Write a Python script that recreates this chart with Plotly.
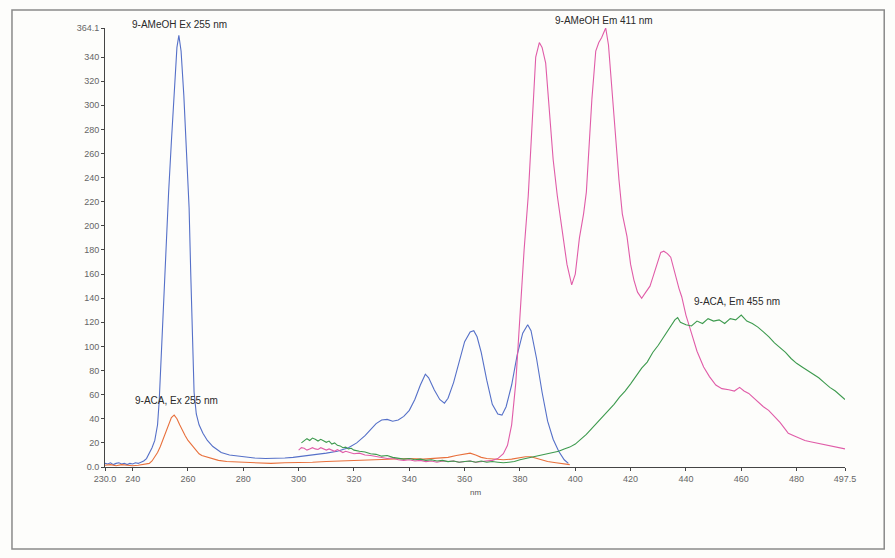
import plotly.graph_objects as go

# 9-AMeOH excitation spectrum (blue)
ameoh_ex_nm = [230, 231, 232, 233, 234, 235, 236, 237, 238, 239, 240, 241, 242, 243, 244, 245, 246, 247, 248,
               249, 249.6, 250, 251, 252, 253, 254, 255, 256, 256.7, 257.5, 258.5, 259.5, 260.4, 261, 261.6,
               262.2, 263, 264, 265.4, 267, 269, 272, 275, 278, 281, 284, 288, 292, 295, 298, 302, 306, 310,
               314, 318, 321, 324, 326, 328, 330, 332, 334, 336, 338, 340, 342, 344, 345.8, 347, 349, 351,
               352.7, 354, 356, 358, 360, 362, 363.3, 364.5, 366, 368, 370, 372, 373.5, 375, 377, 379, 381,
               382.8, 384, 386, 388, 390, 392, 394, 396, 397.5]
ameoh_ex_val = [3, 2.5, 3.5, 2, 3, 3.5, 2.5, 3, 2, 3, 2.5, 3.5, 3, 4, 5, 7, 11, 16, 22,
                35, 55, 75, 138, 185, 228, 270, 315, 348, 358, 345, 308, 262, 215, 160, 100,
                62, 44, 35, 28, 22, 17, 12, 10, 9, 8, 7.5, 7, 7, 7.5, 8, 9, 10, 11.5,
                13, 16, 20, 26, 31, 36, 39, 39.5, 38, 39, 42, 47, 56, 68, 77, 74, 64, 56,
                53, 57, 70, 88, 104, 112, 113, 108, 95, 72, 52, 44, 43, 50, 68, 93, 111,
                118, 113, 90, 62, 38, 23, 13, 6, 3]

# 9-ACA excitation spectrum (orange)
aca_ex_nm = [230, 232, 234, 236, 238, 240, 242, 244, 246, 247, 248, 249, 250, 251, 252, 253, 254, 255, 256,
             257, 258, 259, 260, 261, 262, 263, 264, 265, 267, 269, 271, 274, 278, 282, 286, 290, 295, 300,
             305, 310, 315, 320, 325, 330, 335, 340, 345, 350, 354, 357, 360, 362, 364, 366, 368, 371, 374,
             377, 380, 382, 384, 386, 388, 390, 393, 396, 398]
aca_ex_val = [1.5, 2, 1, 2, 1.5, 1, 1.5, 2, 3, 5, 8, 12, 17, 23, 30, 36, 41, 43, 40,
              35, 30, 26, 22, 19, 16, 13, 11, 9.5, 8, 6.5, 5.5, 4.5, 4, 3.5, 3.5, 3, 3.5, 3.5,
              4, 4.5, 5, 5, 5.5, 6, 6.5, 7, 6.5, 7, 8, 9.5, 11, 11.5, 10, 8, 7, 6.5, 6,
              6.5, 7.5, 8.5, 8.5, 7, 5.5, 4.5, 3.5, 2.5, 2]

# 9-AMeOH emission spectrum (magenta)
ameoh_em_nm = [300, 301, 302, 303, 304, 305, 306, 307, 308, 309, 310, 311, 312, 313, 314, 315, 316, 317, 318,
               320, 322, 324, 326, 328, 330, 332, 334, 336, 338, 340, 342, 344, 346, 348, 350, 352, 354, 356,
               358, 360, 362, 364, 366, 368, 370, 372, 374, 375.5, 377, 378.5, 380, 381.5, 383, 384.5, 385.7,
               387, 388, 389.3, 390.5, 392, 393.5, 395, 397, 398.7, 400, 401.5, 403, 404, 405, 406, 407.4,
               408.5, 409.5, 411, 412, 413, 414.5, 415.8, 417, 418.7, 420, 421.2, 422.5, 424, 425.5, 427, 428,
               429.5, 430.9, 432, 433.3, 434.5, 436, 437.5, 438.5, 440, 442, 444, 446.4, 448.5, 450.8, 453,
               455.5, 457.5, 459.4, 461, 462.7, 464.5, 466.5, 468, 469.9, 472, 474, 476, 477, 479, 481, 483,
               485, 486.9, 489, 491, 493, 495.2, 497.5]
ameoh_em_val = [14, 16, 15.5, 14, 15, 16, 15, 14.5, 16, 15, 14, 15, 14, 13, 14.5, 13.5, 12, 13, 12.5,
                11, 11.5, 10, 9.5, 8.5, 8, 7, 7.5, 6, 5.5, 6, 5, 5.5, 4.5, 5, 4, 5, 4.5, 5,
                4, 4.5, 5, 4, 4.5, 5, 5.5, 7, 11, 18, 35, 70, 125, 180, 225, 290, 340,
                352, 348, 335, 300, 255, 225, 200, 168, 151, 160, 190, 210, 228, 265, 305, 345,
                352, 356, 364.1, 350, 320, 275, 238, 210, 191, 168, 155, 145, 140, 145, 150, 157,
                167, 178, 179, 177, 174, 160, 148, 141, 126, 111, 96, 83, 75, 68, 65,
                64, 63, 66, 63, 61, 57, 53, 50, 47, 42, 37, 31, 28, 26, 24, 22,
                21, 20, 19, 18, 17, 16, 15]

# 9-ACA emission spectrum (green)
aca_em_nm = [301, 302, 303, 304, 305, 306, 307, 308, 309, 310, 311, 312, 313, 314, 315, 316, 317, 318, 319,
             320, 322, 324, 326, 328, 330, 332, 334, 336, 338, 340, 342, 344, 346, 348, 350, 352, 354, 356,
             358, 360, 362, 364, 366, 368, 370, 372, 374, 376, 378, 380, 382, 384, 386, 388, 390, 392, 394,
             396, 398, 400, 402, 404, 406, 408, 410, 412, 414, 416, 418, 420, 422, 424, 426, 428, 430, 432,
             434, 436, 437, 438, 440, 442, 444, 446, 448, 450, 452, 454, 456, 458, 460, 462, 464, 466, 468,
             470, 472, 474, 476, 478, 480, 482, 484, 486, 488, 490, 492, 494, 496, 497.5]
aca_em_val = [20, 22, 23.5, 22, 24, 23, 21.5, 23, 22, 20.5, 21.5, 19, 20, 18, 17.5, 16, 16.5, 15, 15.5,
              14, 13, 12.5, 11, 10.5, 9, 9.5, 8, 7.5, 6.5, 7, 6, 6.5, 5.5, 6, 5, 5.5, 4.5, 5,
              4, 4.5, 5, 4, 5, 4, 4.5, 4, 3.5, 4, 4.5, 6, 7, 8.5, 9.5, 10, 11, 12.5, 13,
              15, 16.5, 19, 23, 27, 32, 37, 42, 47, 52, 58, 63, 69, 76, 82, 87, 95, 101, 108,
              115, 122, 124, 120, 118, 117, 121, 119, 123, 121, 122, 119, 123, 122, 126, 121, 119, 116, 112,
              108, 103, 99, 95, 90, 86, 83, 80, 77, 74, 70, 66, 63, 59, 56]

x_ticks = [230, 240, 260, 280, 300, 320, 340, 360, 380, 400, 420, 440, 460, 480, 497.5]
x_tick_text = ["230.0", "240", "260", "280", "300", "320", "340", "360", "380", "400", "420", "440",
               "460", "480", "497.5"]
y_ticks = [0, 20, 40, 60, 80, 100, 120, 140, 160, 180, 200, 220, 240, 260, 280, 300, 320, 340, 364.1]
y_tick_text = ["0.0", "20", "40", "60", "80", "100", "120", "140", "160", "180", "200", "220", "240",
               "260", "280", "300", "320", "340", "364.1"]

fig = go.Figure()
series = [
    (ameoh_ex_nm, ameoh_ex_val, "#5570c8", "9-AMeOH Ex"),
    (aca_ex_nm, aca_ex_val, "#e8703c", "9-ACA Ex"),
    (ameoh_em_nm, ameoh_em_val, "#e05ca8", "9-AMeOH Em"),
    (aca_em_nm, aca_em_val, "#3d9a4e", "9-ACA Em"),
]
for xs, ys, col, name in series:
    fig.add_trace(go.Scatter(x=xs, y=ys, mode="lines", name=name,
                             line=dict(color=col, width=1.1)))

lab_font = dict(family="Arial, Liberation Sans, sans-serif", size=10, color="#2a2a2a")
fig.add_annotation(x=257, y=1.009, xref="x", yref="paper", text="9-AMeOH Ex 255 nm",
                   showarrow=False, font=lab_font, yanchor="middle")
fig.add_annotation(x=410.5, y=1.018, xref="x", yref="paper", text="9-AMeOH Em 411 nm",
                   showarrow=False, font=lab_font, yanchor="middle")
fig.add_annotation(x=256, y=55, xref="x", yref="y", text="9-ACA, Ex 255 nm",
                   showarrow=False, font=lab_font, yanchor="middle")
fig.add_annotation(x=458.5, y=137, xref="x", yref="y", text="9-ACA, Em 455 nm",
                   showarrow=False, font=lab_font, yanchor="middle")
fig.add_annotation(x=0.5, y=-0.059, xref="paper", yref="paper", text="nm",
                   showarrow=False, font=dict(family="Arial, sans-serif", size=8, color="#555"),
                   yanchor="middle")

# outer frame around the chart
fig.add_shape(type="rect", xref="paper", yref="paper", x0=-0.1257, x1=1.053, y0=-0.187, y1=1.041,
              line=dict(color="#8a8a8a", width=1.5), fillcolor="rgba(0,0,0,0)", layer="below")

tick_font = dict(family="Arial, Liberation Sans, sans-serif", size=9, color="#666")
fig.update_layout(
    width=895, height=558,
    margin=dict(l=105, r=50, t=28, b=91),
    paper_bgcolor="#fdfdfb", plot_bgcolor="#fdfdfb",
    showlegend=False,
)
fig.update_xaxes(range=[230, 497.5], tickvals=x_ticks, ticktext=x_tick_text, tickfont=tick_font,
                 showgrid=False, zeroline=False, showline=True, linecolor="#444", linewidth=1,
                 ticks="outside", ticklen=3, tickcolor="#444")
fig.update_yaxes(range=[0, 364.1], tickvals=y_ticks, ticktext=y_tick_text, tickfont=tick_font,
                 showgrid=False, zeroline=False, showline=True, linecolor="#444", linewidth=1,
                 ticks="outside", ticklen=3, tickcolor="#444")

fig.write_html("out.html")
